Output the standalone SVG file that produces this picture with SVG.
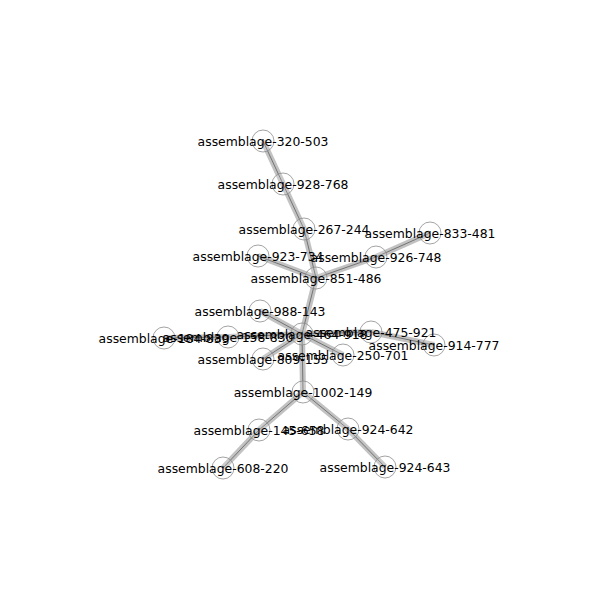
<svg xmlns="http://www.w3.org/2000/svg" width="600" height="600" viewBox="0 0 600 600">
  <style>
    .halo { stroke: #a8a8a8; stroke-width: 6; stroke-opacity: 0.7; stroke-linecap: butt; fill: none; }
    .core { stroke: #555; stroke-width: 0.9; stroke-opacity: 0.8; fill: none; }
    .node circle { fill: #fff; fill-opacity: 0.15; stroke: #8c8c8c; stroke-width: 0.8; }
    .node text { font-family: "DejaVu Sans", sans-serif; font-size: 12.4px; fill: #000; text-anchor: middle; }
  </style>
  <defs>
    <g id="edge-paths">
      <path d="M263,141 L283,184"/>
      <path d="M283,184 L304,229"/>
      <path d="M304,229 L316,278"/>
      <path d="M258,256 L316,278"/>
      <path d="M430,233 L376,257"/>
      <path d="M376,257 L316,278"/>
      <path d="M316,278 L302,334"/>
      <path d="M260,311 L302,334"/>
      <path d="M164,338 L228,337"/>
      <path d="M228,337 L302,334"/>
      <path d="M263,359 L302,334"/>
      <path d="M343,355 L302,334"/>
      <path d="M302,334 L371,332"/>
      <path d="M371,332 L434,345"/>
      <path d="M302,334 L303,392"/>
      <path d="M303,392 L259,430"/>
      <path d="M259,430 L223,468"/>
      <path d="M303,392 L348,429"/>
      <path d="M348,429 L385,467"/>
    </g>
  </defs>
  <rect width="600" height="600" fill="#fff"/>
  <g id="connectors">
    <use href="#edge-paths" class="halo"/>
    <use href="#edge-paths" class="core"/>
  </g>
  <g id="nodes">
    <g class="node" id="n-320-503"><circle cx="263" cy="141" r="11"/></g>
    <g class="node" id="n-928-768"><circle cx="283" cy="184" r="11"/></g>
    <g class="node" id="n-267-244"><circle cx="304" cy="229" r="11"/></g>
    <g class="node" id="n-923-734"><circle cx="258" cy="256" r="11"/></g>
    <g class="node" id="n-833-481"><circle cx="430" cy="233" r="11"/></g>
    <g class="node" id="n-926-748"><circle cx="376" cy="257" r="11"/></g>
    <g class="node" id="n-851-486"><circle cx="316" cy="278" r="11"/></g>
    <g class="node" id="n-988-143"><circle cx="260" cy="311" r="11"/></g>
    <g class="node" id="n-184-839"><circle cx="164" cy="338" r="11"/></g>
    <g class="node" id="n-158-830"><circle cx="228" cy="337" r="11"/></g>
    <g class="node" id="n-464-918"><circle cx="302" cy="334" r="11"/></g>
    <g class="node" id="n-475-921"><circle cx="371" cy="332" r="11"/></g>
    <g class="node" id="n-914-777"><circle cx="434" cy="345" r="11"/></g>
    <g class="node" id="n-250-701"><circle cx="343" cy="355" r="11"/></g>
    <g class="node" id="n-809-155"><circle cx="263" cy="359" r="11"/></g>
    <g class="node" id="n-1002-149"><circle cx="303" cy="392" r="11"/></g>
    <g class="node" id="n-145-658"><circle cx="259" cy="430" r="11"/></g>
    <g class="node" id="n-924-642"><circle cx="348" cy="429" r="11"/></g>
    <g class="node" id="n-608-220"><circle cx="223" cy="468" r="11"/></g>
    <g class="node" id="n-924-643"><circle cx="385" cy="467" r="11"/></g>
  </g>
  <g id="labels" class="node">
    <text x="263" y="145.5">assemblage-320-503</text>
    <text x="283" y="188.5">assemblage-928-768</text>
    <text x="304" y="233.5">assemblage-267-244</text>
    <text x="258" y="260.5">assemblage-923-734</text>
    <text x="430" y="237.5">assemblage-833-481</text>
    <text x="376" y="261.5">assemblage-926-748</text>
    <text x="316" y="282.5">assemblage-851-486</text>
    <text x="260" y="315.5">assemblage-988-143</text>
    <text x="164" y="342.5">assemblage-184-839</text>
    <text x="228" y="341.5">assemblage-158-830</text>
    <text x="302" y="338.5">assemblage-464-918</text>
    <text x="371" y="336.5">assemblage-475-921</text>
    <text x="434" y="349.5">assemblage-914-777</text>
    <text x="343" y="359.5">assemblage-250-701</text>
    <text x="263" y="363.5">assemblage-809-155</text>
    <text x="303" y="396.5">assemblage-1002-149</text>
    <text x="259" y="434.5">assemblage-145-658</text>
    <text x="348" y="433.5">assemblage-924-642</text>
    <text x="223" y="472.5">assemblage-608-220</text>
    <text x="385" y="471.5">assemblage-924-643</text>
  </g>
</svg>
